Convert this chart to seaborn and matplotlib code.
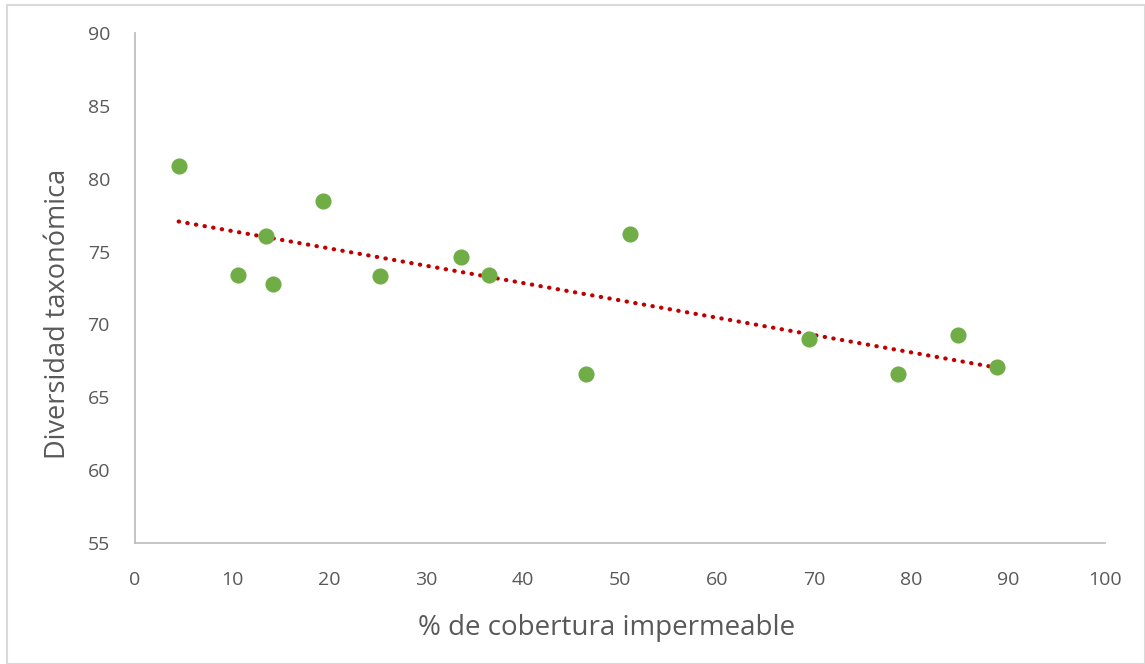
import pandas as pd
import seaborn as sns
import matplotlib.pyplot as plt
from matplotlib.patches import Rectangle

# data
cobertura = [4.5, 10.6, 13.5, 14.2, 19.4, 25.3, 33.6, 36.5, 46.5, 51.0, 69.5, 78.7, 84.8, 88.9]
diversidad = [80.9, 73.4, 76.1, 72.8, 78.5, 73.3, 74.6, 73.4, 66.6, 76.2, 69.0, 66.6, 69.3, 67.1]

df = pd.DataFrame({'cobertura': cobertura, 'diversidad': diversidad})

sns.set_style('white')
plt.rcParams['font.family'] = ['Open Sans', 'DejaVu Sans']

fig = plt.figure(figsize=(11.45, 6.64), dpi=100)
ax = fig.add_axes([0.1179, 0.1822, 0.8472, 0.768])

sns.regplot(data=df, x='cobertura', y='diversidad', ax=ax, ci=None,
            scatter_kws={'s': 135, 'color': '#70AD47', 'alpha': 1, 'linewidths': 0, 'zorder': 3},
            line_kws={'color': '#C00000', 'lw': 3, 'linestyle': (0, (0.1, 2.0)),
                      'dash_capstyle': 'round', 'zorder': 2})

ax.set_xlim(0, 100)
ax.set_ylim(55, 90)
ax.set_xticks(range(0, 101, 10))
ax.set_yticks(range(55, 91, 5))
ax.tick_params(length=0, labelsize=14, labelcolor='#595959')
ax.tick_params(axis='y', pad=18)
ax.tick_params(axis='x', pad=20)

for side in ['top', 'right']:
    ax.spines[side].set_visible(False)
for side in ['left', 'bottom']:
    ax.spines[side].set_color('#BFBFBF')
    ax.spines[side].set_linewidth(1.3)

ax.set_xlabel('% de cobertura impermeable', fontsize=20, color='#595959', labelpad=18)
ax.set_ylabel('Diversidad taxonómica', fontsize=19.5, color='#595959', labelpad=11)
ax.xaxis.label.set_x(0.486)
ax.yaxis.label.set_y(0.45)

# light frame around the whole chart
fig.patches.append(Rectangle((0.006, 0.0), 0.994, 0.993, transform=fig.transFigure,
                             fill=False, edgecolor='#D9D9D9', lw=1.5))

fig.savefig('out.png', dpi=100)
